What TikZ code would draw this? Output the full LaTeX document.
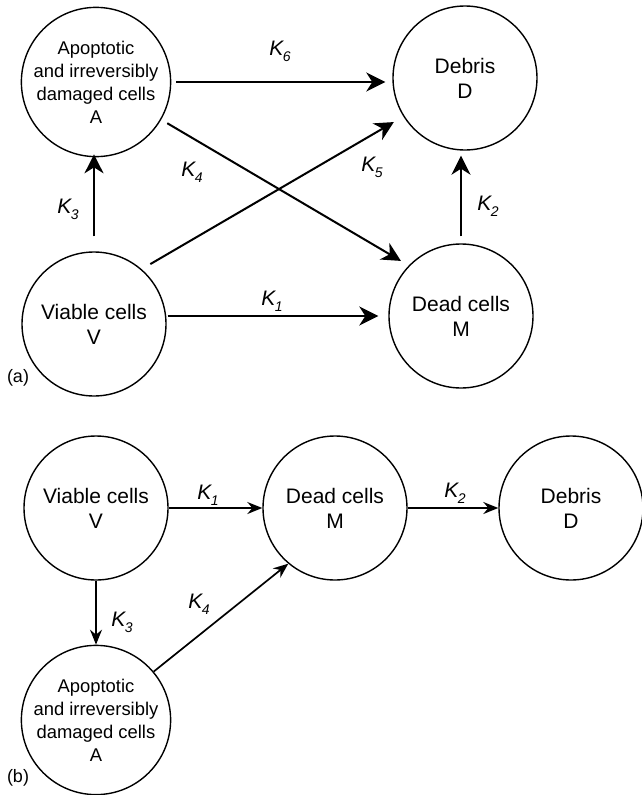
\documentclass[tikz,border=0pt]{standalone}
\usepackage{fontspec}
\setmainfont{Liberation Sans}
\usetikzlibrary{arrows.meta}
\newcommand{\kk}[1]{{\itshape K\kern-0.5pt\raisebox{-6pt}{\fontsize{14}{14}\selectfont #1}}}
\tikzset{
  cell/.style={circle, draw, line width=1.4pt, minimum size=144pt, inner sep=0pt, align=center,
    font=\fontsize{21}{25}\selectfont},
  cellA/.style={cell, font=\fontsize{18.4}{23}\selectfont},
  arra/.style={line width=2pt, -{Stealth[length=19pt,width=19pt,inset=6pt]}},
  arrb/.style={line width=1.7pt, -{Stealth[length=15pt,width=12pt,inset=5pt]}},
  klab/.style={font=\fontsize{21}{21}\selectfont, inner sep=0pt},
  plab/.style={font=\fontsize{18}{18}\selectfont, inner sep=0pt}
}
\begin{document}
\begin{tikzpicture}[x=1pt,y=-1pt]
\useasboundingbox (0,0) rectangle (642,795);
% ---------- (a)
\node[cellA] (A) at (96,82) {Apoptotic\\and irreversibly\\damaged cells\\A};
\node[cell] (D) at (465,78) {Debris\\D};
\node[cell] (V) at (94,324) {Viable cells\\V};
\node[cell] (M) at (461,316) {Dead cells\\M};
\draw[arra, shorten <=5pt, shorten >=7pt] (A.east) -- (D.west |- A.east);
\draw[arra, shorten <=7pt, shorten >=9pt] (A.-30) -- (M.136);
\draw[arra, shorten <=10pt, shorten >=11pt] (V.49) -- (D.-148);
\draw[arra, shorten <=15pt, shorten >=-3pt] (V.north) -- (V.north |- A.south);
\draw[arra, shorten <=7pt, shorten >=5pt] (M.north) -- (M.north |- D.south);
\draw[arra, shorten <=1pt, shorten >=10pt] (V.east |- M.west) -- (M.west);
\node[klab] (k6a) at (280,51) {\kk{6}};
\node[klab] (k4a) at (192,172) {\kk{4}};
\node[klab] (k5a) at (372,167) {\kk{5}};
\node[klab] (k3a) at (68,209) {\kk{3}};
\node[klab] (k2a) at (488,206) {\kk{2}};
\node[klab] (k1a) at (272,301) {\kk{1}};
\node[plab] (la) at (18,378) {(a)};
% ---------- (b)
\node[cell] (Vb) at (96,508) {Viable cells\\V};
\node[cell] (Mb) at (335,508) {Dead cells\\M};
\node[cell] (Db) at (571,508) {Debris\\D};
\node[cellA] (Ab) at (96,720) {Apoptotic\\and irreversibly\\damaged cells\\A};
\draw[arrb] (Vb.east) -- (Mb.west);
\draw[arrb] (Mb.east) -- (Db.west);
\draw[arrb] (Vb.south) -- (Ab.north);
\draw[arrb] (Ab.40) -- (Mb.230);
\node[klab] (k1b) at (208,495) {\kk{1}};
\node[klab] (k2b) at (455,493) {\kk{2}};
\node[klab] (k3b) at (122,622) {\kk{3}};
\node[klab] (k4b) at (199,604) {\kk{4}};
\node[plab] (lb) at (18,778) {(b)};
\end{tikzpicture}
\end{document}
